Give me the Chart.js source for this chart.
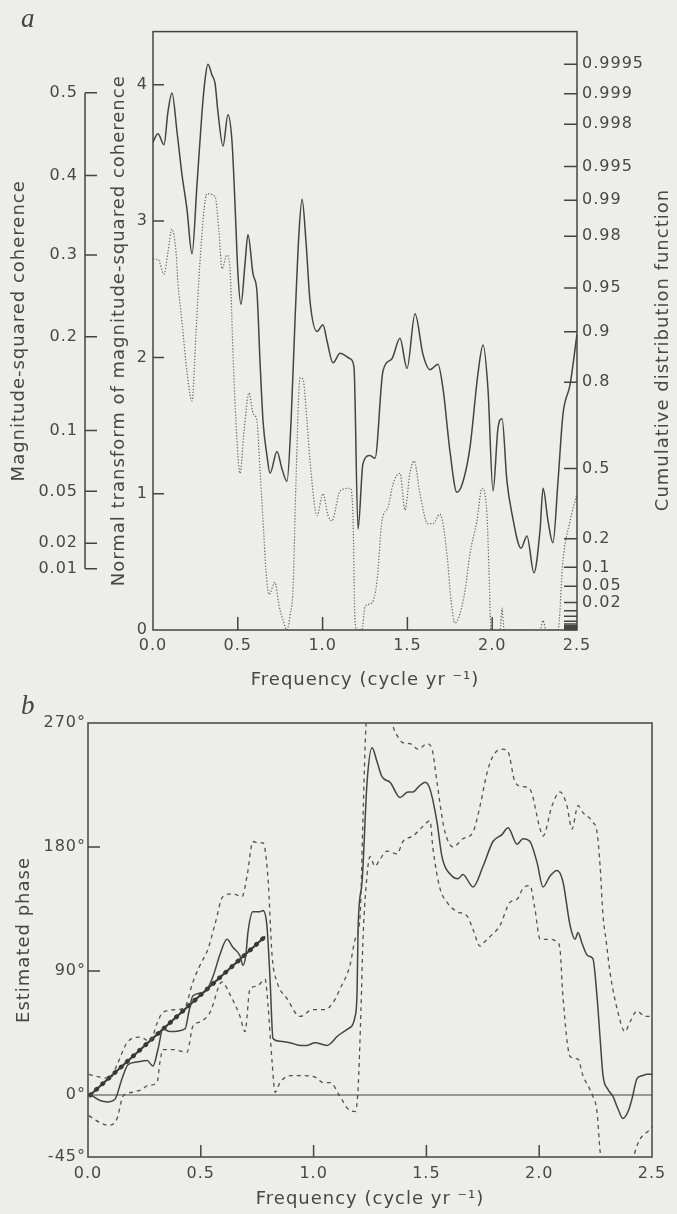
<!DOCTYPE html>
<html>
<head>
<meta charset="utf-8">
<script src="https://cdn.jsdelivr.net/npm/chart.js@4.4.0/dist/chart.umd.min.js"></script>
<style>
  html, body { margin: 0; padding: 0; background: #ededeb; }
  body { width: 677px; height: 1214px; position: relative; overflow: hidden; }
  canvas { position: absolute; left: 0; }
  #chartA { top: 0; }
  #chartB { top: 695px; }
  .tag { position: absolute; left: 21px; font: italic 27px/1 "Liberation Serif", "DejaVu Serif", serif; color: #444; }
</style>
</head>
<body>
<canvas id="chartA" width="677" height="695"></canvas>
<canvas id="chartB" width="677" height="519"></canvas>
<div class="tag" style="top:5px">a</div>
<div class="tag" style="top:692px">b</div>
<script>
// ---- panel a: normal transform of magnitude-squared coherence ----
var aSolidFreq = [0,0.029,0.065,0.088,0.112,0.142,0.171,0.2,0.23,0.259,0.289,0.307,0.324,0.348,0.366,0.383,0.413,0.442,0.466,0.483,0.501,0.519,0.542,0.56,0.59,0.613,0.631,0.649,0.672,0.69,0.731,0.761,0.79,0.814,0.837,0.861,0.879,0.902,0.926,0.967,1.002,1.026,1.061,1.103,1.162,1.185,1.209,1.238,1.279,1.309,1.356,1.409,1.456,1.498,1.545,1.592,1.633,1.68,1.71,1.751,1.792,1.828,1.869,1.916,1.946,1.975,2.005,2.034,2.058,2.087,2.117,2.17,2.205,2.246,2.282,2.3,2.329,2.358,2.388,2.417,2.459,2.5];
var aSolidZ = [3.58,3.64,3.56,3.80,3.94,3.65,3.34,3.09,2.76,3.26,3.80,4.04,4.15,4.07,4.01,3.80,3.55,3.78,3.58,3.14,2.61,2.39,2.68,2.90,2.61,2.48,1.97,1.53,1.28,1.15,1.31,1.18,1.09,1.53,2.26,2.92,3.16,2.85,2.41,2.19,2.24,2.12,1.96,2.03,1.99,1.93,0.74,1.22,1.28,1.26,1.90,1.99,2.14,1.92,2.32,2.02,1.91,1.95,1.77,1.31,1.01,1.09,1.34,1.88,2.09,1.77,1.02,1.48,1.55,1.09,0.85,0.60,0.69,0.42,0.73,1.04,0.80,0.64,1.09,1.58,1.80,2.17];

var aDotFreq = [0,0.029,0.065,0.088,0.112,0.136,0.147,0.171,0.2,0.23,0.254,0.277,0.318,0.366,0.389,0.407,0.436,0.454,0.472,0.489,0.513,0.537,0.566,0.59,0.613,0.631,0.649,0.666,0.684,0.719,0.743,0.767,0.79,0.808,0.826,0.843,0.867,0.884,0.908,0.926,0.967,1.002,1.032,1.055,1.103,1.162,1.179,1.191,1.203,1.232,1.25,1.291,1.321,1.35,1.386,1.415,1.456,1.486,1.515,1.539,1.574,1.621,1.651,1.692,1.733,1.757,1.781,1.81,1.84,1.869,1.91,1.94,1.969,1.981,1.993,2.046,2.058,2.07,2.282,2.3,2.317,2.388,2.417,2.459,2.5];
var aDotZ = [2.72,2.72,2.61,2.77,2.94,2.77,2.55,2.26,1.90,1.68,2.19,2.70,3.20,3.18,2.92,2.65,2.75,2.65,2.02,1.53,1.15,1.46,1.74,1.59,1.53,1.17,0.80,0.44,0.26,0.35,0.18,0.07,0,0.11,0.31,1.09,1.85,1.84,1.53,1.24,0.84,1.00,0.84,0.80,1.02,1.04,0.84,0.07,0,0,0.17,0.20,0.36,0.80,0.90,1.07,1.15,0.88,1.15,1.24,1.00,0.78,0.78,0.85,0.56,0.22,0.05,0.12,0.29,0.56,0.80,1.04,0.85,0.44,0,0,0.16,0,0,0.07,0,0,0.51,0.80,1.00];

var freqTicks = [0, 0.5, 1, 1.5, 2, 2.5];
var normTicks = [0, 1, 2, 3, 4];
var cohTicks = [0.5, 0.4, 0.3, 0.2, 0.1, 0.05, 0.02, 0.01];
var cohTickLabels = ['0.5', '0.4', '0.3', '0.2', '0.1', '0.05', '0.02', '0.01'];
var cdfTicks = [0.9995, 0.999, 0.998, 0.995, 0.99, 0.98, 0.95, 0.9, 0.8, 0.5, 0.2, 0.1, 0.05, 0.02];
var cdfTickLabels = ['0.9995', '0.999', '0.998', '0.995', '0.99', '0.98', '0.95', '0.9', '0.8', '0.5', '0.2', '0.1', '0.05', '0.02'];
var cdfMinorTicks = [0.01, 0.005, 0.002, 0.001, 0.0005, 0.0003, 0.0002, 0.0001, 0.00005, 0.00002, 0.00001];

// ---- panel b: estimated phase ----
var bSolidFreq = [0.013,0.053,0.089,0.12,0.151,0.177,0.217,0.262,0.288,0.31,0.332,0.363,0.43,0.448,0.465,0.519,0.554,0.585,0.616,0.643,0.674,0.687,0.7,0.709,0.731,0.762,0.776,0.793,0.807,0.82,0.851,0.895,0.94,0.971,1.006,1.059,1.108,1.152,1.184,1.193,1.197,1.215,1.237,1.259,1.281,1.303,1.339,1.383,1.418,1.441,1.467,1.494,1.516,1.547,1.569,1.613,1.64,1.662,1.707,1.751,1.795,1.835,1.862,1.902,1.928,1.959,1.99,2.017,2.048,2.079,2.105,2.137,2.159,2.172,2.19,2.216,2.238,2.256,2.27,2.283,2.305,2.327,2.349,2.371,2.394,2.411,2.434,2.456,2.478,2.5];
var bSolidDeg = [0,-4,-5,-3,12,22,24,25,21,33,48,46,48,61,72,75,86,102,113,107,101,94,102,118,133,133,134,123,84,41,39,38,36,36,38,36,43,48,57,77,120,155,227,252,242,231,227,216,220,220,224,227,222,198,173,159,157,160,151,166,184,189,194,182,186,184,169,151,159,163,155,123,113,118,110,101,99,72,41,14,4,-1,-10,-17,-12,-3,12,14,15,15];

var bUpFreq = [0.004,0.053,0.098,0.129,0.173,0.23,0.275,0.306,0.332,0.394,0.43,0.465,0.496,0.532,0.563,0.598,0.643,0.683,0.705,0.731,0.754,0.776,0.798,0.816,0.838,0.882,0.94,0.997,1.051,1.086,1.117,1.161,1.184,1.206,1.219,1.232,1.25,1.317,1.352,1.37,1.392,1.427,1.463,1.503,1.525,1.547,1.569,1.582,1.618,1.662,1.707,1.738,1.769,1.795,1.835,1.862,1.893,1.924,1.959,2.004,2.017,2.057,2.092,2.123,2.145,2.172,2.194,2.238,2.256,2.27,2.283,2.296,2.314,2.349,2.38,2.402,2.434,2.469,2.5];
var bUpDeg = [15,13,12,22,38,42,39,52,60,62,64,82,94,106,124,144,146,144,159,184,183,183,157,101,82,70,57,62,62,67,77,94,113,130,202,268,302,302,268,261,256,255,251,255,251,227,202,191,180,186,191,210,234,246,251,249,227,224,222,193,188,210,220,210,193,210,205,198,191,166,130,113,89,60,46,53,61,57,57];

var bLowFreq = [0.004,0.053,0.089,0.129,0.155,0.195,0.239,0.266,0.306,0.319,0.332,0.377,0.439,0.465,0.496,0.541,0.594,0.629,0.674,0.696,0.718,0.749,0.785,0.798,0.816,0.829,0.851,0.895,0.953,1.006,1.042,1.073,1.117,1.152,1.184,1.197,1.21,1.219,1.232,1.25,1.272,1.294,1.325,1.37,1.396,1.441,1.485,1.516,1.529,1.56,1.591,1.636,1.68,1.707,1.738,1.751,1.782,1.826,1.871,1.902,1.928,1.959,1.981,2.004,2.048,2.079,2.092,2.105,2.137,2.172,2.194,2.225,2.238,2.256,2.27,2.283,2.402,2.425,2.447,2.491,2.5];
var bLowDeg = [-15,-20,-22,-17,-1,2,4,7,9,24,33,33,31,50,53,60,82,73,57,46,77,79,84,65,24,2,9,14,14,13,9,9,-1,-10,-12,4,62,113,150,173,166,171,177,175,184,188,195,199,179,150,140,133,130,120,108,110,115,123,140,142,150,152,135,113,113,111,106,72,28,26,14,4,-1,-12,-41,-57,-57,-41,-32,-25,-23];

var fitFreq = [0.01, 0.785];
var fitDeg = [0, 115];
var zeroFreq = [0, 2.5];
var zeroDeg = [0, 0];
var phaseTicks = [-45, 0, 90, 180, 270];

// axis transforms (11 segments: z = sqrt(20) atanh(sqrt(C)), CDF = 1-(1-C)^10)
var K = Math.sqrt(20);
function cohToZ(c) { return K * Math.atanh(Math.sqrt(c)); }
function cdfToZ(p) { return cohToZ(1 - Math.pow(1 - p, 0.1)); }

var ink = '#444444';
var textInk = '#474747';
Chart.defaults.font.family = '"DejaVu Sans", "Liberation Sans", sans-serif';
Chart.defaults.font.size = 16;
Chart.defaults.color = textInk;

function pairs(xs, ys) {
	return xs.map(function(x, i) { return {x: x, y: ys[i]}; });
}

var spacing = {
	id: 'spacing',
	beforeDraw: function(chart) { chart.ctx.letterSpacing = '1px'; }
};

var zTop = 4.39;

var marksA = {
	id: 'marksA',
	afterDatasetsDraw: function(chart) {
		var ctx = chart.ctx, area = chart.chartArea, s = chart.scales;
		ctx.save();
		ctx.strokeStyle = ink;
		ctx.lineWidth = 1.5;
		ctx.strokeRect(area.left, area.top, area.right - area.left, area.bottom - area.top);
		ctx.beginPath();
		freqTicks.slice(1, -1).forEach(function(v) {
			var p = s.x.getPixelForValue(v);
			ctx.moveTo(p, area.bottom); ctx.lineTo(p, area.bottom - 13);
		});
		normTicks.slice(1).forEach(function(v) {
			var p = s.y.getPixelForValue(v);
			ctx.moveTo(area.left, p); ctx.lineTo(area.left + 11, p);
		});
		cdfTicks.concat(cdfMinorTicks).forEach(function(c) {
			var p = s.yR.getPixelForValue(cdfToZ(c));
			ctx.moveTo(area.right, p); ctx.lineTo(area.right - 13, p);
		});
		// free-standing coherence scale
		var lx = s.yC.right - 15;
		ctx.moveTo(lx, s.yC.getPixelForValue(cohToZ(cohTicks[0])));
		ctx.lineTo(lx, s.yC.getPixelForValue(cohToZ(cohTicks[cohTicks.length - 1])));
		cohTicks.forEach(function(c) {
			var p = s.yC.getPixelForValue(cohToZ(c));
			ctx.moveTo(lx, p); ctx.lineTo(lx + 12, p);
		});
		ctx.stroke();
		// right title reads upward like the left ones
		ctx.translate(663, 350);
		ctx.rotate(-Math.PI / 2);
		ctx.font = '18px "DejaVu Sans", sans-serif';
		ctx.fillStyle = textInk;
		ctx.textAlign = 'center';
		ctx.textBaseline = 'middle';
		ctx.fillText('Cumulative distribution function', 0, 0);
		ctx.restore();
	}
};

var marksB = {
	id: 'marksB',
	afterDatasetsDraw: function(chart) {
		var ctx = chart.ctx, area = chart.chartArea, s = chart.scales;
		ctx.save();
		ctx.strokeStyle = ink;
		ctx.lineWidth = 1.5;
		ctx.strokeRect(area.left, area.top, area.right - area.left, area.bottom - area.top);
		ctx.beginPath();
		freqTicks.slice(1, -1).forEach(function(v) {
			var p = s.x.getPixelForValue(v);
			ctx.moveTo(p, area.bottom); ctx.lineTo(p, area.bottom - 12);
		});
		[90, 180].forEach(function(v) {
			var p = s.y.getPixelForValue(v);
			ctx.moveTo(area.left, p); ctx.lineTo(area.left + 12, p);
		});
		ctx.stroke();
		ctx.restore();
	}
};

function fixedWidth(w) { return function(scale) { scale.width = w; }; }
function fixedHeight(h) { return function(scale) { scale.height = h; }; }
var noGrid = { display: false, drawTicks: false };

new Chart(document.getElementById('chartA'), {
	type: 'line',
	data: {
		datasets: [{
			data: pairs(aDotFreq, aDotZ),
			borderColor: '#676767',
			borderWidth: 1.2,
			borderDash: [1.3, 1.7]
		},
		{
			data: pairs(aSolidFreq, aSolidZ),
			borderColor: ink,
			borderWidth: 1.5
		}]
	},
	options: {
		responsive: false,
		animation: false,
		events: [],
		elements: { point: { radius: 0 }, line: { cubicInterpolationMode: 'monotone' } },
		layout: { padding: { top: 29, left: 0, right: 0, bottom: 0 } },
		plugins: { legend: { display: false }, tooltip: { enabled: false } },
		scales: {
			x: {
				type: 'linear', min: 0, max: 2.5,
				afterBuildTicks: function(scale) { scale.ticks = freqTicks.map(function(v) { return {value: v}; }); },
				afterFit: fixedHeight(65),
				grid: noGrid, border: { display: false },
				ticks: { padding: 6, maxRotation: 0, callback: function(v) { return v.toFixed(1); } },
				title: { display: true, text: 'Frequency (cycle yr \u207B\u00B9)', font: { size: 18 }, padding: { bottom: 4 } }
			},
			y: {
				type: 'linear', position: 'left', min: 0, max: zTop,
				afterBuildTicks: function(scale) { scale.ticks = normTicks.map(function(v) { return {value: v}; }); },
				afterFit: fixedWidth(53),
				grid: noGrid, border: { display: false },
				ticks: { padding: 5, autoSkip: false },
				title: { display: true, text: 'Normal transform of magnitude-squared coherence', font: { size: 18 }, padding: { top: 9 } }
			},
			yC: {
				type: 'linear', position: 'left', weight: 1, min: 0, max: zTop,
				afterBuildTicks: function(scale) { scale.ticks = cohTicks.map(function(c) { return {value: cohToZ(c)}; }); },
				afterFit: fixedWidth(100),
				grid: noGrid, border: { display: false },
				ticks: { padding: 22, autoSkip: false, callback: function(v, i) { return cohTickLabels[i]; } },
				title: { display: true, text: 'Magnitude-squared coherence', font: { size: 18 }, padding: { top: 9 } }
			},
			yR: {
				type: 'linear', position: 'right', min: 0, max: zTop,
				afterBuildTicks: function(scale) { scale.ticks = cdfTicks.map(function(c) { return {value: cdfToZ(c)}; }); },
				afterFit: fixedWidth(100),
				grid: noGrid, border: { display: false },
				ticks: { padding: 5, autoSkip: false, callback: function(v, i) { return cdfTickLabels[i]; } }
			}
		}
	},
	plugins: [spacing, marksA]
});

new Chart(document.getElementById('chartB'), {
	type: 'line',
	data: {
		datasets: [{
			data: pairs(zeroFreq, zeroDeg),
			borderColor: ink,
			borderWidth: 1.2
		},
		{
			data: pairs(bLowFreq, bLowDeg),
			borderColor: '#525252',
			borderWidth: 1.3,
			borderDash: [4, 4]
		},
		{
			data: pairs(bUpFreq, bUpDeg),
			borderColor: '#525252',
			borderWidth: 1.3,
			borderDash: [4, 4]
		},
		{
			data: pairs(bSolidFreq, bSolidDeg),
			borderColor: ink,
			borderWidth: 1.5
		},
		{
			data: pairs(fitFreq, fitDeg),
			borderColor: '#3a3a3a',
			borderWidth: 2.2
		},
		{
			data: pairs(fitFreq, fitDeg),
			borderColor: '#333',
			borderWidth: 4.5,
			borderDash: [0.5, 7.8],
			borderCapStyle: 'round'
		}]
	},
	options: {
		responsive: false,
		animation: false,
		events: [],
		elements: { point: { radius: 0 }, line: { cubicInterpolationMode: 'monotone' } },
		layout: { padding: { top: 28, left: 0, right: 25, bottom: 0 } },
		plugins: { legend: { display: false }, tooltip: { enabled: false } },
		scales: {
			x: {
				type: 'linear', min: 0, max: 2.5,
				afterBuildTicks: function(scale) { scale.ticks = freqTicks.map(function(v) { return {value: v}; }); },
				afterFit: fixedHeight(57),
				grid: noGrid, border: { display: false },
				ticks: { padding: 7, maxRotation: 0, callback: function(v) { return v.toFixed(1); } },
				title: { display: true, text: 'Frequency (cycle yr \u207B\u00B9)', font: { size: 18 }, padding: { bottom: 4 } }
			},
			y: {
				type: 'linear', position: 'left', min: -45, max: 270,
				afterBuildTicks: function(scale) { scale.ticks = phaseTicks.map(function(v) { return {value: v}; }); },
				afterFit: fixedWidth(88),
				grid: noGrid, border: { display: false },
				ticks: { padding: 2, autoSkip: false, callback: function(v) { return v + '\u00B0'; } },
				title: { display: true, text: 'Estimated phase', font: { size: 18 }, padding: { top: 14 } }
			}
		}
	},
	plugins: [spacing, marksB]
});
</script>
</body>
</html>
